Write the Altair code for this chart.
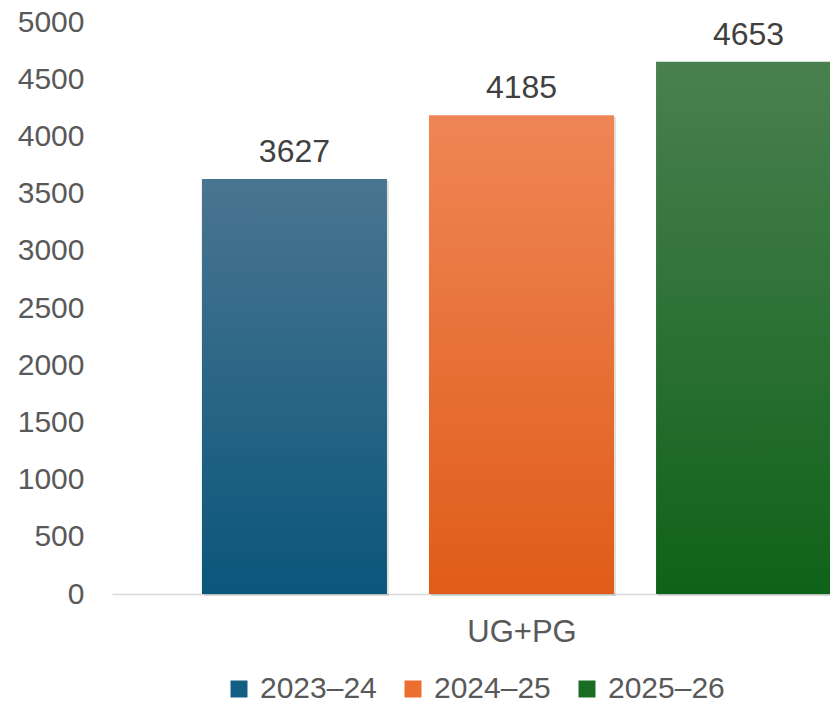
import altair as alt
import pandas as pd

years = ["2023–24", "2024–25", "2025–26"]
values = [3627, 4185, 4653]
solid_colors = ["#135f84", "#ec6f30", "#1a6e24"]
grad_top = ["#4a7590", "#ef8656", "#4a8050"]
grad_bottom = ["#0a567b", "#e05c18", "#0f6219"]

df = pd.DataFrame({"year": years, "value": values})

FONT = "Liberation Sans"

xscale = alt.Scale(domain=years, range=[0, 819], paddingInner=0.185, paddingOuter=0.396)
yscale = alt.Scale(domain=[0, 5000])

xenc = alt.X("year:N", scale=xscale, sort=years,
             axis=alt.Axis(title="UG+PG", labels=False, ticks=False, domain=True,
                           domainColor="#d9d9d9", domainWidth=1.5,
                           titleFont=FONT, titleFontSize=31, titleFontWeight="normal",
                           titleColor="#595959", titleX=409.5, titleY=38,
                           titleAlign="center", titleBaseline="middle"))
yenc = alt.Y("value:Q", scale=yscale,
             axis=alt.Axis(title=None, values=list(range(0, 5001, 500)), grid=False,
                           format="d", domain=False, ticks=False, labelPadding=28,
                           labelFont=FONT, labelFontSize=30, labelColor="#595959"))

base = alt.Chart(df)

legend_bars = base.mark_bar(opacity=0).encode(
    x=xenc, y=yenc,
    color=alt.Color("year:N", scale=alt.Scale(domain=years, range=solid_colors),
                    legend=alt.Legend(title=None, orient="none", direction="horizontal",
                                      legendX=112, legendY=652,
                                      symbolType="square", symbolSize=289,
                                      symbolStrokeWidth=0, symbolOpacity=1,
                                      labelFont=FONT, labelFontSize=30,
                                      labelColor="#595959", labelOffset=6,
                                      columnPadding=21, padding=0))
)

layers = [legend_bars]
for yr in years:
    shadow = base.transform_filter(alt.datum.year == yr).mark_bar(
        color="#000000", opacity=0.12, xOffset=2, yOffset=2
    ).encode(x=xenc, y=yenc)
    layers.append(shadow)
for yr, top, bot in zip(years, grad_top, grad_bottom):
    grad = alt.Gradient(gradient="linear", x1=0, y1=0, x2=0, y2=1,
                        stops=[alt.GradientStop(color=top, offset=0),
                               alt.GradientStop(color=bot, offset=1)])
    bar = base.transform_filter(alt.datum.year == yr).mark_bar(color=grad).encode(
        x=xenc, y=yenc)
    layers.append(bar)

labels = base.mark_text(font=FONT, fontSize=32, color="#404040", dy=-17,
                        baseline="alphabetic", align="center").encode(
    x=xenc, y=yenc, text="value:Q")
layers.append(labels)

chart = alt.layer(*layers).properties(
    width=718, height=572,
    autosize=alt.AutoSizeParams(type="none"),
    padding={"left": 104, "top": 14, "right": 0, "bottom": 104},
).configure_view(stroke=None)

chart.save("out.html", embed_options={"renderer": "svg", "actions": False})
